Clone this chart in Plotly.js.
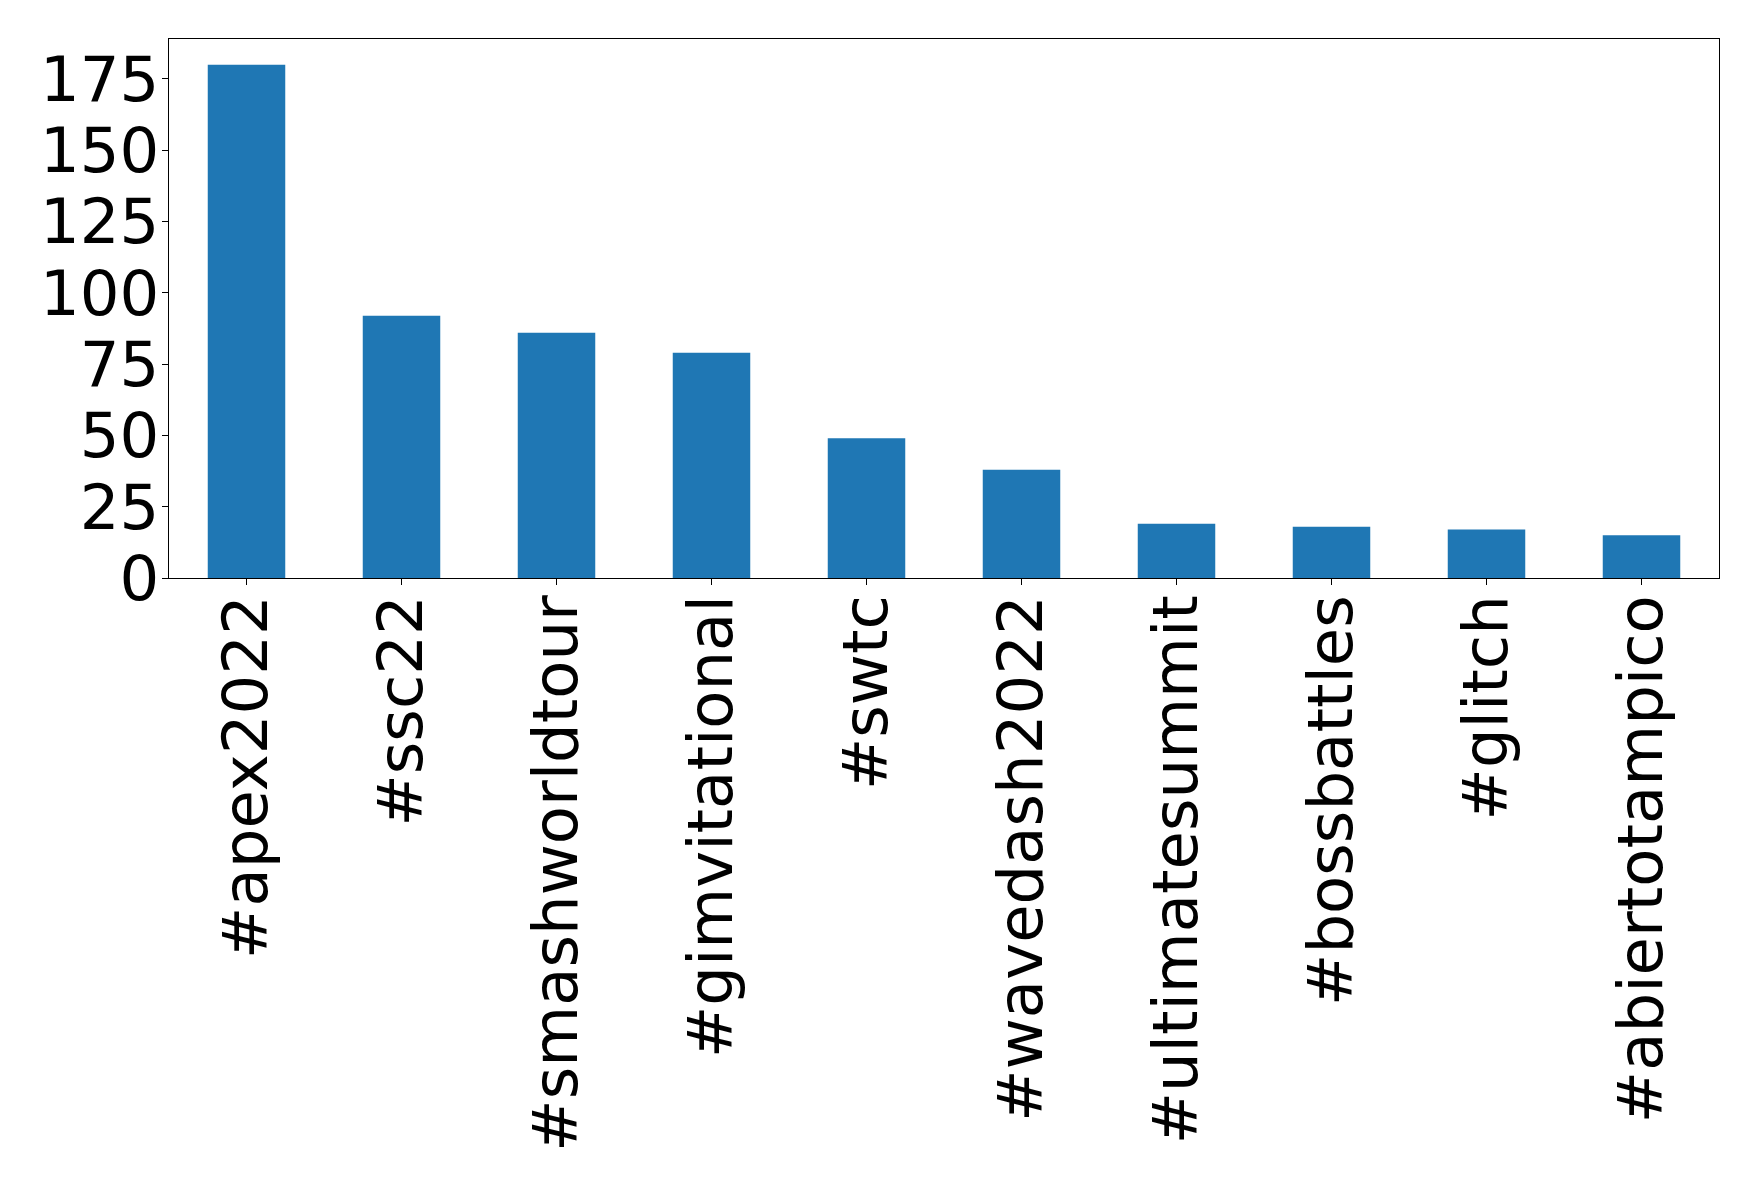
<!DOCTYPE html>
<html>
<head>
<meta charset="utf-8">
<script src="https://cdn.plot.ly/plotly-3.0.1.min.js"></script>
<style>html,body{margin:0;padding:0;background:#fff;}#chart{width:1758px;height:1184px;}</style>
</head>
<body>
<div id="chart"></div>
<script>
const categories = ["#apex2022", "#ssc22", "#smashworldtour", "#gimvitational", "#swtc", "#wavedash2022", "#ultimatesummit", "#bossbattles", "#glitch", "#abiertotampico"];
const counts = [180, 92, 86, 79, 49, 38, 19, 18, 17, 15];
const yTicks = [0, 25, 50, 75, 100, 125, 150, 175];

const trace = {
  type: "bar",
  x: categories,
  y: counts,
  marker: {color: "#1f77b4", line: {width: 0}},
  hoverinfo: "x+y"
};

const layout = {
  width: 1758,
  height: 1184,
  margin: {l: 169, r: 39, t: 39, b: 606, pad: 0},
  paper_bgcolor: "#ffffff",
  plot_bgcolor: "#ffffff",
  bargap: 0.5,
  showlegend: false,
  font: {family: "DejaVu Sans", color: "#000000"},
  xaxis: {
    type: "category",
    range: [-0.5, 9.5],
    autorange: false,
    tickangle: -90,
    tickfont: {family: "DejaVu Sans", size: 62.5, color: "#000000"},
    ticks: "outside",
    ticklen: 6,
    tickwidth: 1,
    tickcolor: "#000000",
    ticklabelstandoff: -15,
    showline: true,
    linecolor: "#000000",
    linewidth: 1.2,
    mirror: true,
    showgrid: false,
    zeroline: false
  },
  yaxis: {
    range: [0, 189],
    autorange: false,
    tickvals: yTicks,
    ticktext: yTicks.map(String),
    tickfont: {family: "DejaVu Sans", size: 62.5, color: "#000000"},
    ticks: "outside",
    ticklen: 6,
    tickwidth: 1,
    tickcolor: "#000000",
    ticklabelstandoff: -10,
    showline: true,
    linecolor: "#000000",
    linewidth: 1.2,
    mirror: true,
    showgrid: false,
    zeroline: false
  }
};

Plotly.newPlot("chart", [trace], layout, {displayModeBar: false, staticPlot: true});
</script>
</body>
</html>
